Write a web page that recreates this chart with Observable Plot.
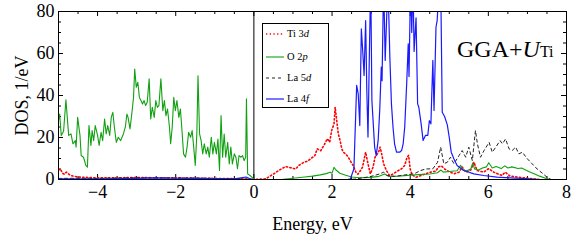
<!DOCTYPE html>
<html>
<head>
<meta charset="utf-8">
<script src="https://cdn.jsdelivr.net/npm/d3@7"></script>
<script src="https://cdn.jsdelivr.net/npm/@observablehq/plot@0.6"></script>
<style>
  html, body { margin: 0; padding: 0; background: #fff; }
  #wrap { position: relative; width: 585px; height: 241px; font-family: "Liberation Serif", "Times New Roman", serif; }
  #wrap svg { display: block; }
  #legend { position: absolute; left: 262px; top: 23px; width: 65px; height: 83px; border: 1px solid #000; background: #fff; }
  .row { position: absolute; left: 0; height: 12px; font-size: 10.5px; line-height: 12px; color: #000; }
  .row svg { position: absolute; left: 3px; top: 0; }
  .row span { position: absolute; left: 24px; top: 0; white-space: nowrap; }
  #tag { position: absolute; left: 457px; top: 34px; font-size: 24px; line-height: 30px; color: #000; white-space: nowrap; }
  #tag sub { font-size: 16px; vertical-align: baseline; font-style: normal; }
</style>
</head>
<body>
<div id="wrap"></div>
<script>
// ---- data (energy in eV, DOS in 1/eV) ----
const ti3d = [[-5,4.5],[-4.95,5],[-4.9,3],[-4.85,2.5],[-4.8,3.5],[-4.7,2],[-4.6,1.5],[-4.5,1.2],[-4.3,1],[-4,0.8],[-3.5,0.8],[-3,1],[-2.5,0.8],[-2,0.8],[-1.5,0.6],[-1,0.5],[-0.5,0.4],[-0.1,0.2],[0,0],[0.3,0.3],
 [0.51,2.7],[0.64,4.3],[0.81,6.2],[0.94,5.6],[1.07,5],[1.15,6.7],[1.28,8.2],[1.37,8.7],[1.45,9.8],[1.56,11.4],[1.62,14.6],[1.71,13.7],[1.79,16.2],[1.88,19.4],[1.94,17.8],[1.99,23.3],[2.05,26.5],[2.08,34.4],[2.12,28],[2.16,21.8],[2.2,19],[2.25,14.6],[2.29,13],[2.35,12.2],[2.42,10.5],[2.48,8.5],[2.54,6.7],[2.61,3.5],[2.66,2.5],[2.72,4],[2.78,5.9],[2.86,13],[2.92,7.5],[2.98,2.7],[3.05,5.9],[3.1,10.6],[3.19,13],[3.23,15.4],[3.27,12.2],[3.32,7.5],[3.39,4.3],[3.47,1.9],[3.57,2.7],[3.7,4.3],[3.78,5.1],[3.86,6.7],[3.92,10.6],[3.96,11.5],[4,5],[4.05,2.2],[4.15,1.1],[4.4,2.7],[4.52,3.5],[4.66,4],[4.72,6],[4.8,6.5],[4.88,5],[4.94,4.3],[5.12,2.7],[5.25,3.5],[5.33,6],[5.42,3.5],[5.55,4.5],[5.63,8.3],[5.71,4.3],[5.88,3.5],[6.01,5.2],[6.14,3.5],[6.35,1.9],[6.43,3.5],[6.56,1.6],[6.81,1],[7.06,0.5],[7.3,0]];

const o2p = [[-5,28],[-4.97,31.2],[-4.93,20.9],[-4.87,23],[-4.81,37.9],[-4.74,21],[-4.68,21.7],[-4.63,17],[-4.57,18.5],[-4.55,15.4],[-4.51,29.6],[-4.45,21],[-4.42,11.4],[-4.36,10.6],[-4.3,6.7],[-4.26,5.9],[-4.22,25.7],[-4.17,16.2],[-4.14,23.3],[-4.1,18.5],[-4.06,25.7],[-4,21],[-3.96,16.2],[-3.91,22.5],[-3.87,18.5],[-3.82,28.8],[-3.78,21.7],[-3.74,25.7],[-3.69,21],[-3.65,29.6],[-3.61,32],[-3.57,24.9],[-3.52,17.7],[-3.47,20.1],[-3.41,18.5],[-3.34,21.7],[-3.29,24.9],[-3.25,31.2],[-3.22,29.6],[-3.17,24.1],[-3.12,32],[-3.08,39.1],[-3.05,52.6],[-3.01,43.9],[-2.97,46.3],[-2.93,39.1],[-2.89,37.6],[-2.85,36],[-2.81,37.6],[-2.77,35.2],[-2.73,36.8],[-2.68,47.9],[-2.64,28.8],[-2.6,34.4],[-2.55,29.6],[-2.51,37.6],[-2.47,34.4],[-2.43,35.2],[-2.38,47.9],[-2.33,32.8],[-2.29,37.6],[-2.25,30.4],[-2.21,33.6],[-2.16,24.9],[-2.13,17],[-2.09,24.9],[-2.05,39.1],[-2.01,32.8],[-1.97,37.6],[-1.92,29.6],[-1.88,33.6],[-1.84,23.3],[-1.8,12.2],[-1.75,10.6],[-1.71,15.4],[-1.67,22.5],[-1.62,20.1],[-1.58,23.3],[-1.54,15.4],[-1.5,6.7],[-1.46,21.7],[-1.43,49.4],[-1.39,21.7],[-1.35,18.5],[-1.31,12.2],[-1.27,17],[-1.22,12.2],[-1.18,15.4],[-1.14,10.6],[-1.09,20.1],[-1.05,12.2],[-1.01,17.7],[-0.96,12.2],[-0.92,19.3],[-0.88,4.3],[-0.84,30.4],[-0.8,10.6],[-0.76,21.7],[-0.72,10.6],[-0.67,17.7],[-0.63,7.4],[-0.59,15.4],[-0.55,7.4],[-0.5,12.2],[-0.46,10.6],[-0.42,5.1],[-0.38,11.4],[-0.33,10.6],[-0.29,11.4],[-0.25,9],[-0.21,10.6],[-0.19,38.4],[-0.16,2.7],[-0.1,1.9],[-0.03,0.8],[0,0],
 [0.7,0],[1,0.6],[1.3,1.2],[1.5,1.6],[1.7,2.2],[1.85,2.8],[1.95,3.5],[2,3],[2.05,5.8],[2.1,4.5],[2.2,3],[2.35,2],[2.5,1.2],[2.7,0.8],[3,1],[3.2,1.5],[3.35,2.6],[3.45,1.5],[3.7,1.6],[4,2],[4.2,2.3],[4.5,2.6],[4.7,3.2],[4.78,4.5],[4.85,3.5],[5,3.8],[5.2,4.2],[5.29,6.8],[5.35,4.5],[5.45,4.2],[5.55,5],[5.6,7.8],[5.65,5],[5.75,4.5],[5.85,5.5],[5.95,6],[6.01,8],[6.1,5.5],[6.2,6.2],[6.33,5.2],[6.42,6.5],[6.5,5.5],[6.6,6],[6.76,5.2],[6.85,5.5],[7.06,3.6],[7.2,2.5],[7.31,1.6],[7.48,0.5],[7.6,0]];

const la5d = [[-5,0.5],[-4.5,0.6],[-4,0.5],[-3.5,0.7],[-3,0.8],[-2.5,0.8],[-2,0.7],[-1.5,0.7],[-1,0.5],[-0.5,0.4],[0,0],[2.5,0],[2.8,0.8],[3,1.5],[3.23,2.7],[3.32,3.5],[3.4,1.9],[3.6,1.5],[3.8,2],[4,2.5],[4.1,2.7],[4.27,4.3],[4.4,5],[4.58,5.1],[4.7,8.2],[4.78,15.4],[4.86,7.5],[4.95,8.2],[5.03,10.6],[5.12,7.5],[5.25,11.4],[5.33,13.8],[5.42,10.6],[5.5,15.4],[5.59,9],[5.67,23.3],[5.72,17],[5.8,10.6],[5.89,13.8],[6.02,17.7],[6.1,13],[6.19,15.4],[6.3,18.5],[6.36,17],[6.44,19.3],[6.53,14.6],[6.61,13.8],[6.7,15.4],[6.78,12.2],[6.87,13],[7,9.8],[7.12,7.5],[7.25,5],[7.38,3],[7.5,1.1],[7.6,0]];

const la4f = [[-5,0.3],[-4,0.3],[-3,0.5],[-2.5,0.8],[-2,0.6],[-1.5,0.5],[-1,0.4],[-0.5,0.3],[-0.2,1.2],[-0.1,0.3],[0,0],[2.4,0],[2.47,0.3],[2.56,5.1],[2.63,44.8],[2.67,40.8],[2.71,25.7],[2.75,71.7],[2.79,59.8],[2.82,49.5],[2.86,75.7],[2.89,42],[2.92,20.2],[2.96,64.6],[2.99,95],[3.02,37.6],[3.09,15.4],[3.13,11.4],[3.18,18.6],[3.22,32.9],[3.26,53.5],[3.28,47],[3.32,95],[3.36,56.7],[3.39,73],[3.43,95],[3.48,58],[3.52,36],[3.56,25],[3.6,17],[3.65,13],[3.73,13],[3.78,13.8],[3.82,17],[3.86,25],[3.91,45.6],[3.95,64.6],[3.97,49],[4.01,95],[4.04,70],[4.07,95],[4.1,61],[4.15,77],[4.19,36],[4.22,34.5],[4.28,26.5],[4.33,18.6],[4.39,21],[4.45,21],[4.49,28],[4.53,26.5],[4.55,39],[4.58,56.7],[4.61,32.9],[4.66,72.5],[4.69,75.7],[4.75,95],[4.78,95],[4.82,32],[4.88,30],[4.95,26],[5,20],[5.05,13],[5.12,9.8],[5.2,6.7],[5.37,4.3],[5.63,2.7],[5.88,1.9],[6.22,1.1],[6.56,0.8],[7.06,0.3],[7.3,0]];

const xMajor = [-4, -2, 0, 2, 4, 6, 8];
const xMinor = [-4.5,-3.5,-3,-2.5,-1.5,-1,-0.5,0.5,1,1.5,2.5,3,3.5,4.5,5,5.5,6.5,7,7.5];
const yMajor = [0, 20, 40, 60, 80];
const yMinor = [5,10,15,25,30,35,45,50,55,65,70,75];
const fermi = [0];

const W = 585, H = 241, mL = 58, mR = 19, mT = 11, mB = 62;
const pw = W - mL - mR, ph = H - mT - mB;
const toObj = a => a.map(([e, v]) => ({e, v}));

const tickStyle = {stroke: "#000", strokeWidth: 1};
const chart = Plot.plot({
  width: W, height: H,
  marginLeft: mL, marginRight: mR, marginTop: mT, marginBottom: mB,
  style: {fontFamily: "Liberation Serif, serif", fontSize: "18px", color: "#000", background: "#fff"},
  x: {domain: [-5, 8], ticks: xMajor, tickSize: 0, tickPadding: 6, label: "Energy, eV", labelArrow: "none", labelAnchor: "center", labelOffset: 50},
  y: {domain: [0, 80], ticks: yMajor, tickSize: 0, tickPadding: 4, label: "DOS, 1/eV", labelArrow: "none", labelAnchor: "center", labelOffset: 43},
  marks: [
    // inward ticks: bottom & top
    Plot.ruleX(xMajor, {x: d => d, insetTop: ph - 5, ...tickStyle}),
    Plot.ruleX(xMajor, {x: d => d, insetBottom: ph - 5, ...tickStyle}),
    Plot.ruleX(xMinor, {x: d => d, insetTop: ph - 3, ...tickStyle}),
    Plot.ruleX(xMinor, {x: d => d, insetBottom: ph - 3, ...tickStyle}),
    // inward ticks: left & right
    Plot.ruleY(yMajor, {y: d => d, insetRight: pw - 5, ...tickStyle}),
    Plot.ruleY(yMajor, {y: d => d, insetLeft: pw - 5, ...tickStyle}),
    Plot.ruleY(yMinor, {y: d => d, insetRight: pw - 3, ...tickStyle}),
    Plot.ruleY(yMinor, {y: d => d, insetLeft: pw - 3, ...tickStyle}),
    Plot.ruleX(fermi, {x: d => d, stroke: "#000", strokeWidth: 1}),
    Plot.line(toObj(ti3d), {x: "e", y: "v", stroke: "#ff0000", strokeWidth: 1.6, strokeDasharray: "1.3,2.4", clip: true}),
    Plot.line(toObj(o2p), {x: "e", y: "v", stroke: "#11a011", strokeWidth: 1.1, clip: true}),
    Plot.line(toObj(la5d), {x: "e", y: "v", stroke: "#222", strokeWidth: 1, strokeDasharray: "3,3", clip: true}),
    Plot.line(toObj(la4f), {x: "e", y: "v", stroke: "#1a1aff", strokeWidth: 1.2, clip: true}),
    Plot.frame({stroke: "#000", strokeWidth: 1})
  ]
});

const wrap = document.getElementById("wrap");
wrap.appendChild(chart);

// legend
const legendItems = [
  {name: "Ti 3", orb: "d", color: "#ff0000", dash: "1.3,2.4", w: 1.6},
  {name: "O 2", orb: "p", color: "#11a011", dash: null, w: 1.1},
  {name: "La 5", orb: "d", color: "#222", dash: "3,3", w: 1},
  {name: "La 4", orb: "f", color: "#1a1aff", dash: null, w: 1.2}
];
const rowTops = [4, 26.5, 48, 68.5];
const leg = document.createElement("div");
leg.id = "legend";
legendItems.forEach((it, i) => {
  const row = document.createElement("div");
  row.className = "row";
  row.style.top = rowTops[i] + "px";
  row.innerHTML = `<svg width="18" height="12"><line x1="0" x2="18" y1="6" y2="6" stroke="${it.color}" stroke-width="${it.w}" ${it.dash ? `stroke-dasharray="${it.dash}"` : ""}/></svg><span>${it.name}<i>${it.orb}</i></span>`;
  leg.appendChild(row);
});
wrap.appendChild(leg);

const tag = document.createElement("div");
tag.id = "tag";
tag.innerHTML = "GGA+<i>U</i><sub>Ti</sub>";
wrap.appendChild(tag);
</script>
</body>
</html>
